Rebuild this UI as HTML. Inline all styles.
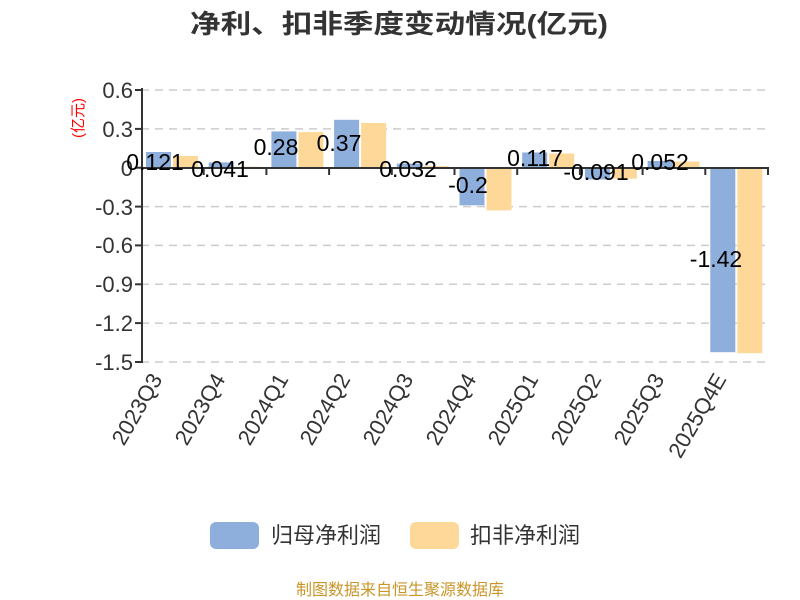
<!DOCTYPE html>
<html><head><meta charset="utf-8"><style>
body{margin:0;background:#fff}
svg{display:block;font-family:"Liberation Sans","Noto Sans CJK SC",sans-serif}
</style></head><body>
<svg width="800" height="600" xmlns="http://www.w3.org/2000/svg">
<text x="399" y="33" text-anchor="middle" font-size="26" font-weight="bold" fill="#333" textLength="418" lengthAdjust="spacingAndGlyphs">净利、扣非季度变动情况(亿元)</text>
<g stroke="#ccc" stroke-width="1.5" stroke-dasharray="8,6">
<line x1="141" y1="90" x2="768" y2="90"/><line x1="141" y1="128.9" x2="768" y2="128.9"/>
<line x1="141" y1="206.6" x2="768" y2="206.6"/><line x1="141" y1="245.4" x2="768" y2="245.4"/>
<line x1="141" y1="284.3" x2="768" y2="284.3"/><line x1="141" y1="323.1" x2="768" y2="323.1"/>
<line x1="141" y1="362" x2="768" y2="362"/>
</g>
<g fill="#8eaedb">
<rect x="146" y="152" width="25" height="15.7"/><rect x="208.7" y="162.4" width="25" height="5.3"/>
<rect x="271.4" y="131.4" width="25" height="36.3"/><rect x="334.1" y="119.8" width="25" height="47.9"/>
<rect x="396.8" y="163.6" width="25" height="4.1"/><rect x="459.5" y="167.7" width="25" height="37.6"/>
<rect x="522.2" y="152.5" width="25" height="15.2"/><rect x="584.9" y="167.7" width="25" height="11.8"/>
<rect x="647.6" y="161" width="25" height="6.7"/><rect x="710.3" y="167.7" width="25" height="184.5"/>
</g>
<g fill="#fdd898">
<rect x="173" y="156" width="25" height="11.7"/><rect x="235.7" y="166.7" width="25" height="1"/>
<rect x="298.4" y="132.1" width="25" height="35.6"/><rect x="361.1" y="123" width="25" height="44.7"/>
<rect x="423.8" y="166.1" width="25" height="1.6"/><rect x="486.5" y="167.7" width="25" height="42.7"/>
<rect x="549.2" y="153.5" width="25" height="14.2"/><rect x="611.9" y="167.7" width="25" height="11"/>
<rect x="674.6" y="161.6" width="25" height="6.1"/><rect x="737.3" y="167.7" width="25" height="185.5"/>
</g>
<g stroke="#333" stroke-width="2">
<line x1="142" y1="88" x2="142" y2="363"/>
<line x1="135" y1="90" x2="142" y2="90"/><line x1="135" y1="128.9" x2="142" y2="128.9"/>
<line x1="135" y1="167.7" x2="142" y2="167.7"/><line x1="135" y1="206.6" x2="142" y2="206.6"/>
<line x1="135" y1="245.4" x2="142" y2="245.4"/><line x1="135" y1="284.3" x2="142" y2="284.3"/>
<line x1="135" y1="323.1" x2="142" y2="323.1"/><line x1="135" y1="362" x2="142" y2="362"/>
<line x1="141" y1="168" x2="769" y2="168"/>
<line x1="203.7" y1="168" x2="203.7" y2="175"/><line x1="266.4" y1="168" x2="266.4" y2="175"/>
<line x1="329.1" y1="168" x2="329.1" y2="175"/><line x1="391.8" y1="168" x2="391.8" y2="175"/>
<line x1="454.5" y1="168" x2="454.5" y2="175"/><line x1="517.2" y1="168" x2="517.2" y2="175"/>
<line x1="579.9" y1="168" x2="579.9" y2="175"/><line x1="642.6" y1="168" x2="642.6" y2="175"/>
<line x1="705.3" y1="168" x2="705.3" y2="175"/><line x1="768" y1="168" x2="768" y2="175"/>
</g>
<g font-size="22" fill="#333" text-anchor="end">
<text x="133" y="98">0.6</text><text x="133" y="137">0.3</text><text x="133" y="176">0</text>
<text x="133" y="215">-0.3</text><text x="133" y="253">-0.6</text><text x="133" y="292">-0.9</text>
<text x="133" y="331">-1.2</text><text x="133" y="370">-1.5</text>
</g>
<text transform="translate(83,118) rotate(-90)" text-anchor="middle" font-size="15" fill="#f00">(亿元)</text>
<g font-size="23" fill="#000" text-anchor="middle">
<text x="155" y="170">0.121</text><text x="220" y="177">0.041</text>
<text x="276" y="155">0.28</text><text x="339" y="151">0.37</text>
<text x="408" y="177">0.032</text><text x="468" y="193">-0.2</text>
<text x="535" y="166">0.117</text><text x="596" y="180">-0.091</text>
<text x="660" y="170">0.052</text><text x="716" y="267">-1.42</text>
</g>
<g font-size="22" fill="#333" text-anchor="end">
<text transform="translate(163,379) rotate(-60)">2023Q3</text>
<text transform="translate(226,379) rotate(-60)">2023Q4</text>
<text transform="translate(289,379) rotate(-60)">2024Q1</text>
<text transform="translate(351,379) rotate(-60)">2024Q2</text>
<text transform="translate(414,379) rotate(-60)">2024Q3</text>
<text transform="translate(477,379) rotate(-60)">2024Q4</text>
<text transform="translate(539,379) rotate(-60)">2025Q1</text>
<text transform="translate(602,379) rotate(-60)">2025Q2</text>
<text transform="translate(665,379) rotate(-60)">2025Q3</text>
<text transform="translate(727,379) rotate(-60)">2025Q4E</text>
</g>
<rect x="210" y="522" width="49" height="27" rx="6" fill="#8eaedb"/>
<text x="271" y="543" font-size="22" fill="#333">归母净利润</text>
<rect x="410" y="522" width="49" height="27" rx="6" fill="#fdd898"/>
<text x="470" y="543" font-size="22" fill="#333">扣非净利润</text>
<text x="400" y="595" text-anchor="middle" font-size="16" fill="#c8962a">制图数据来自恒生聚源数据库</text>
</svg>
</body></html>
